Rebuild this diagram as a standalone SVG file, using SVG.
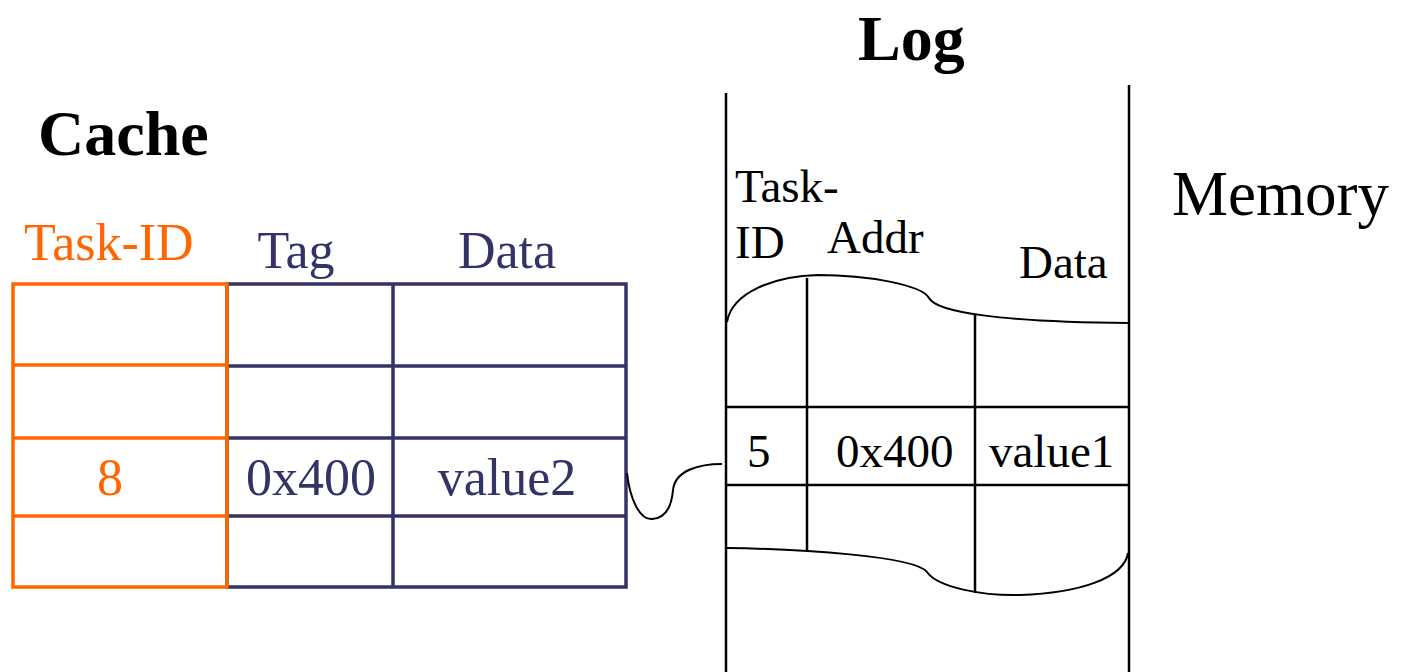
<svg xmlns="http://www.w3.org/2000/svg" width="1401" height="672" viewBox="0 0 1401 672">
  <style>
    text { font-family: "Liberation Serif", "Times New Roman", serif; }
    .title { font-weight: bold; font-size: 64px; fill: #000; }
    .orange { fill: #FF6600; font-size: 52px; }
    .navy { fill: #333366; font-size: 52px; }
    .logtxt { fill: #000; font-size: 47px; }
    .oline { stroke: #FF6600; stroke-width: 3.5; fill: none; }
    .nline { stroke: #333366; stroke-width: 3.5; fill: none; }
    .kline { stroke: #000; stroke-width: 2.5; fill: none; }
    .curve { stroke: #000; stroke-width: 2; fill: none; }
  </style>
  <rect width="1401" height="672" fill="#fff"/>

  <!-- Cache table -->
  <g id="cache">
    <text class="title" x="38" y="155">Cache</text>
    <text class="orange" x="24" y="260">Task-ID</text>
    <text class="navy" x="296" y="268" text-anchor="middle">Tag</text>
    <text class="navy" x="507" y="268" text-anchor="middle">Data</text>
    <!-- tag / data columns -->
    <rect class="nline" x="227" y="284" width="399" height="303"/>
    <line class="nline" x1="393" y1="284" x2="393" y2="587"/>
    <line class="nline" x1="227" y1="366" x2="626" y2="366"/>
    <line class="nline" x1="227" y1="438" x2="626" y2="438"/>
    <line class="nline" x1="227" y1="516" x2="626" y2="516"/>
    <!-- task-id column -->
    <rect class="oline" x="13" y="284" width="214" height="303"/>
    <line class="oline" x1="13" y1="365" x2="227" y2="365"/>
    <line class="oline" x1="13" y1="438" x2="227" y2="438"/>
    <line class="oline" x1="13" y1="516" x2="227" y2="516"/>
    <text class="orange" x="110" y="495" text-anchor="middle">8</text>
    <text class="navy" x="311" y="495" text-anchor="middle">0x400</text>
    <text class="navy" x="507" y="495" text-anchor="middle">value2</text>
  </g>

  <!-- Log region -->
  <g id="log">
    <text class="title" x="858" y="60">Log</text>
    <line class="kline" x1="726" y1="93" x2="726" y2="672"/>
    <line class="kline" x1="1129" y1="85" x2="1129" y2="672"/>
    <text class="logtxt" x="735" y="202">Task-</text>
    <text class="logtxt" x="735" y="258">ID</text>
    <text class="logtxt" x="827" y="253">Addr</text>
    <text class="logtxt" x="1019" y="278">Data</text>
    <!-- torn top and bottom edges of the log band -->
    <path class="curve" d="M727,322 C732,292 775,276 818,275 C868,275 922,285 929,298 C936,312 1000,322 1129,323"/>
    <path class="curve" d="M727,548 C800,549 915,556 927,572 C938,588 985,596 1020,595 C1080,593 1124,578 1128,553"/>
    <line class="kline" x1="807" y1="278" x2="807" y2="550"/>
    <line class="kline" x1="975" y1="314" x2="975" y2="593"/>
    <line class="kline" x1="726" y1="407" x2="1129" y2="407"/>
    <line class="kline" x1="726" y1="485" x2="1129" y2="485" stroke-width="3.5"/>
    <text class="logtxt" x="747" y="467">5</text>
    <text class="logtxt" x="836" y="467">0x400</text>
    <text class="logtxt" x="989" y="467">value1</text>
  </g>

  <g id="memory">
    <text x="1172" y="215" font-size="63" fill="#000">Memory</text>
  </g>

  <!-- link between cache entry and log entry -->
  <g id="connectors">
    <path class="curve" d="M627,473 C630,500 640,520 652,519 C668,518 672,502 673,490 C675,470 700,464 722,464"/>
  </g>
</svg>
